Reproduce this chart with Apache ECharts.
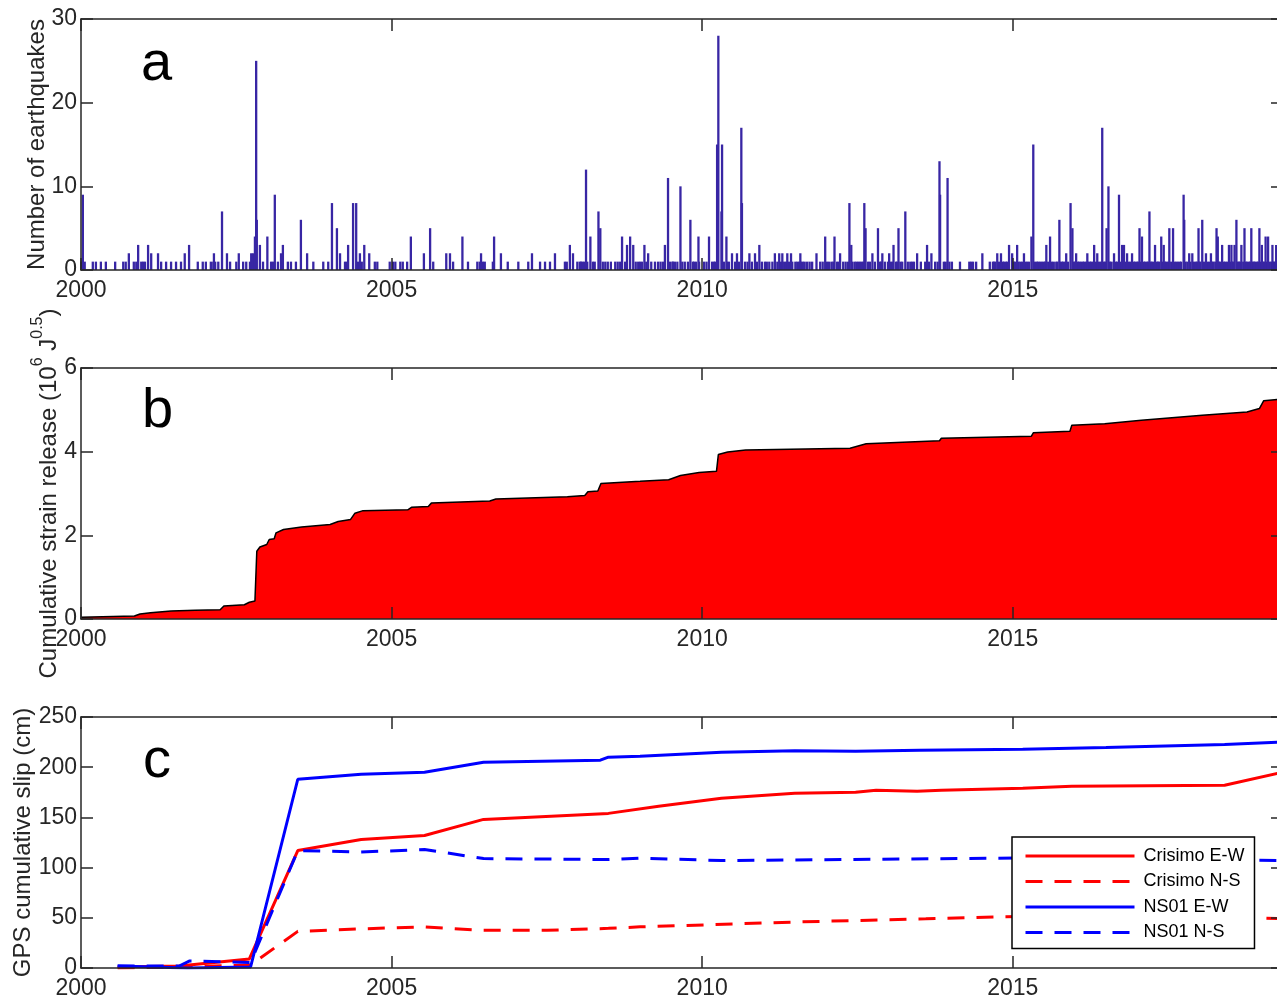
<!DOCTYPE html>
<html>
<head>
<meta charset="utf-8">
<script src="https://cdn.jsdelivr.net/npm/echarts@6/dist/echarts.min.js"></script>
<style>
html,body{margin:0;padding:0;background:#fff;}
#chart{width:1277px;height:998px;}
</style>
</head>
<body>
<div id="chart"></div>
<script>
// ---------- DATA ----------
const xTicks = [2000, 2005, 2010, 2015];

// Panel a: days with more than one earthquake [decimal year, count]
const quakeMulti = [
[2000.03,9],[2000.77,2],[2000.92,3],[2001.08,3],[2001.13,2],[2001.24,2],[2001.67,2],[2001.74,3],[2002.14,2],[2002.27,7],
[2002.35,2],[2002.54,2],[2002.74,2],[2002.77,2],[2002.80,4],[2002.82,25],[2002.83,6],[2002.88,3],[2003.00,4],[2003.12,9],
[2003.22,2],[2003.25,3],[2003.54,6],[2003.64,2],[2004.04,8],[2004.12,5],[2004.17,2],[2004.30,3],[2004.38,8],[2004.43,8],
[2004.49,2],[2004.56,3],[2004.64,2],[2005.31,4],[2005.52,2],[2005.62,5],[2005.88,2],[2005.94,2],[2006.14,4],[2006.44,2],
[2006.65,4],[2006.76,2],[2007.26,2],[2007.63,2],[2007.87,3],[2007.92,2],[2008.13,12],[2008.20,4],[2008.33,7],[2008.36,5],
[2008.71,4],[2008.79,3],[2008.84,4],[2008.89,3],[2009.07,3],[2009.13,2],[2009.40,3],[2009.45,11],[2009.65,10],[2009.81,6],
[2009.94,4],[2010.11,4],[2010.24,15],[2010.26,28],[2010.31,7],[2010.32,15],[2010.39,4],[2010.48,2],[2010.56,2],[2010.63,17],
[2010.64,8],[2010.76,2],[2010.85,2],[2010.92,3],[2011.17,2],[2011.24,2],[2011.29,2],[2011.37,2],[2011.43,2],[2011.58,2],
[2011.84,2],[2011.98,4],[2012.13,4],[2012.22,2],[2012.37,8],[2012.40,3],[2012.61,8],[2012.63,5],[2012.74,2],[2012.83,5],
[2012.90,2],[2013.01,2],[2013.08,3],[2013.16,5],[2013.27,7],[2013.46,2],[2013.62,3],[2013.69,2],[2013.82,13],[2013.83,9],
[2013.95,11],[2014.51,2],[2014.75,2],[2014.81,2],[2014.94,3],[2014.99,2],[2015.07,3],[2015.18,2],[2015.30,4],[2015.33,15],
[2015.54,3],[2015.60,4],[2015.75,6],[2015.86,2],[2015.93,8],[2015.96,5],[2016.02,2],[2016.20,2],[2016.31,3],[2016.36,2],
[2016.44,17],[2016.51,5],[2016.54,10],[2016.63,2],[2016.71,9],[2016.76,3],[2016.79,3],[2016.84,2],[2016.92,2],[2017.04,5],
[2017.08,4],[2017.20,7],[2017.29,3],[2017.39,4],[2017.43,3],[2017.52,5],[2017.58,5],[2017.75,9],[2017.76,6],[2017.84,2],
[2017.89,2],[2017.99,5],[2018.05,6],[2018.11,2],[2018.19,2],[2018.28,5],[2018.30,4],[2018.37,3],[2018.48,3],[2018.52,3],
[2018.57,3],[2018.60,6],[2018.68,3],[2018.73,5],[2018.84,5],[2018.97,5],[2019.01,3],[2019.07,4],[2019.11,4],[2019.18,3],
[2019.24,3]
];
// Panel a: days with exactly one earthquake (decimal year)
const quakeOnes = [
2000.00,2000.06,2000.19,2000.24,2000.32,2000.40,2000.55,2000.68,2000.72,2000.85,2000.89,2000.97,2001.00,2001.03,2001.29,
2001.37,2001.45,2001.53,2001.61,2001.88,2001.96,2002.01,2002.09,2002.13,2002.16,2002.21,2002.40,2002.50,2002.61,2002.66,
2002.72,2002.93,2003.06,2003.09,2003.17,2003.33,2003.38,2003.46,2003.74,2003.90,2003.98,2004.25,2004.28,2004.46,2004.52,
2004.73,2004.77,2004.97,2005.02,2005.06,2005.14,2005.18,2005.25,2005.67,2005.99,2006.23,2006.38,2006.42,2006.47,2006.50,
2006.63,2006.87,2007.04,2007.20,2007.39,2007.47,2007.55,2007.79,2007.82,2007.99,2008.03,2008.05,2008.07,2008.10,2008.15,
2008.24,2008.27,2008.40,2008.44,2008.48,2008.53,2008.60,2008.64,2008.68,2008.76,2008.93,2008.97,2009.00,2009.03,2009.10,
2009.18,2009.24,2009.29,2009.33,2009.37,2009.48,2009.52,2009.53,2009.56,2009.60,2009.68,2009.72,2009.77,2009.85,2009.87,
2009.90,2009.95,2010.03,2010.07,2010.16,2010.19,2010.21,2010.35,2010.40,2010.43,2010.53,2010.59,2010.69,2010.73,2010.80,
2010.88,2010.96,2011.01,2011.04,2011.08,2011.13,2011.21,2011.27,2011.32,2011.35,2011.40,2011.45,2011.50,2011.53,2011.56,
2011.59,2011.62,2011.65,2011.69,2011.73,2011.77,2011.90,2011.94,2012.01,2012.04,2012.08,2012.11,2012.17,2012.20,2012.27,
2012.31,2012.35,2012.41,2012.45,2012.48,2012.51,2012.54,2012.57,2012.60,2012.67,2012.70,2012.78,2012.86,2012.88,2012.94,
2012.99,2013.04,2013.07,2013.12,2013.14,2013.19,2013.22,2013.31,2013.35,2013.38,2013.41,2013.52,2013.59,2013.65,2013.75,
2013.79,2013.89,2013.92,2013.98,2014.02,2014.15,2014.30,2014.33,2014.36,2014.41,2014.63,2014.68,2014.70,2014.72,2014.78,
2014.84,2014.86,2014.89,2014.91,2015.02,2015.04,2015.09,2015.12,2015.15,2015.20,2015.23,2015.26,2015.36,2015.39,2015.41,
2015.44,2015.47,2015.50,2015.52,2015.57,2015.63,2015.66,2015.70,2015.72,2015.76,2015.79,2015.81,2015.84,2015.89,2015.98,
2016.00,2016.05,2016.07,2016.10,2016.13,2016.15,2016.18,2016.21,2016.24,2016.26,2016.29,2016.34,2016.39,2016.42,2016.47,
2016.49,2016.56,2016.58,2016.62,2016.66,2016.68,2016.73,2016.82,2016.87,2016.90,2016.95,2016.97,2017.00,2017.02,2017.06,
2017.11,2017.13,2017.16,2017.18,2017.22,2017.24,2017.27,2017.32,2017.34,2017.36,2017.41,2017.45,2017.47,2017.50,2017.55,
2017.60,2017.63,2017.66,2017.69,2017.71,2017.78,2017.81,2017.86,2017.92,2017.95,2017.97,2018.00,2018.02,2018.08,2018.13,
2018.16,2018.21,2018.23,2018.26,2018.32,2018.34,2018.40,2018.42,2018.45,2018.50,2018.53,2018.55,2018.62,2018.64,2018.66,
2018.71,2018.75,2018.77,2018.80,2018.82,2018.86,2018.88,2018.90,2018.93,2018.95,2018.99,2019.03,2019.05,2019.09,2019.13,
2019.16,2019.19,2019.21,2019.23,2019.26,2019.29
];

// Panel b: cumulative strain release (10^6 J^0.5)
const strainYears = [2000.00,2000.86,2000.95,2001.12,2001.45,2001.84,2002.24,2002.30,2002.63,2002.71,2002.80,2002.83,2002.88,2002.99,2003.03,
2003.11,2003.14,2003.26,2003.55,2004.01,2004.14,2004.34,2004.41,2004.54,2005.26,2005.32,2005.59,2005.64,2006.58,2006.68,
2007.83,2008.11,2008.16,2008.32,2008.37,2009.00,2009.46,2009.49,2009.65,2009.95,2010.23,2010.26,2010.41,2010.70,2012.38,
2012.64,2013.82,2013.85,2015.30,2015.33,2015.92,2015.95,2016.48,2017.07,2018.05,2018.77,2018.97,2019.04,2019.29,2019.35];
const strainValues = [0.04,0.07,0.12,0.15,0.19,0.21,0.22,0.31,0.34,0.40,0.43,1.62,1.72,1.78,1.90,
1.92,2.06,2.14,2.20,2.26,2.33,2.38,2.53,2.59,2.61,2.67,2.69,2.77,2.82,2.87,
2.92,2.95,3.04,3.06,3.24,3.29,3.33,3.37,3.43,3.50,3.53,3.93,3.99,4.04,4.08,
4.19,4.26,4.32,4.37,4.45,4.49,4.63,4.67,4.75,4.87,4.95,5.03,5.22,5.25,5.26];

// Panel c: GPS cumulative slip (cm)
const crisimoEWYears = [2000.59,2001.58,2002.71,2003.49,2004.51,2005.53,2006.48,2008.49,2009.30,2010.31,2011.49,2012.47,2012.80,2013.46,2013.85,2015.16,2015.95,2018.41,2019.35];
const crisimoEW      = [1,2,9,117,128,132,148,154,161,169,174,175,177,176,177,179,181,182,195];
const crisimoNSYears = [2000.59,2001.58,2002.73,2003.49,2004.51,2005.53,2006.48,2007.50,2008.49,2009.00,2010.05,2011.60,2013.60,2014.80,2016.00,2017.50,2018.41,2019.35];
const crisimoNS      = [0,1,3,36.5,39,41,37.5,37.5,39.5,41,43,46,49,51,52,52,51,49];
const ns01EWYears = [2000.59,2001.71,2002.73,2003.49,2004.51,2005.53,2006.48,2008.36,2008.49,2009.00,2010.31,2011.49,2012.47,2013.50,2015.16,2016.50,2018.41,2019.35];
const ns01EW      = [2,0,1,188,193,195,205,207,210,211,215,216.5,216,217,218,219.5,222.5,225];
const ns01NSYears = [2000.59,2001.58,2001.75,2002.73,2003.49,2004.51,2005.53,2006.48,2008.49,2009.00,2010.31,2012.30,2015.16,2019.35];
const ns01NS      = [2,2,7,5.5,117,115.5,118,109,108,109.5,107,108,109.5,107];

const seriesNames = ['Crisimo E-W','Crisimo N-S','NS01 E-W','NS01 N-S'];

// ---------- CHART ----------
const FONT = '"Liberation Sans", Arial, Helvetica, sans-serif';
const AX = '#262626';
const X_MIN = 2000, X_MAX = 2019.35;

const grids = [
  {left: 81, top: 19, width: 1202, height: 251, outerBoundsMode: 'none', containLabel: false},
  {left: 81, top: 368, width: 1202, height: 251, outerBoundsMode: 'none', containLabel: false},
  {left: 81, top: 717, width: 1202, height: 251, outerBoundsMode: 'none', containLabel: false}
];

function xAxes(gi) {
  const common = {
    gridIndex: gi, type: 'value', min: X_MIN, max: X_MAX, interval: 5, z: 5,
    axisLine: {show: true, onZero: false, lineStyle: {color: AX, width: 1.5}},
    axisTick: {show: true, inside: true, length: 12, lineStyle: {color: AX, width: 1.5}},
    splitLine: {show: false}
  };
  return [
    Object.assign({}, common, {position: 'bottom',
      axisLabel: {show: true, fontSize: 23, color: AX, fontFamily: FONT, margin: 9,
        formatter: v => (xTicks.indexOf(v) >= 0 ? String(v) : '')}}),
    Object.assign({}, common, {position: 'top', axisLabel: {show: false}})
  ];
}
function yAxes(gi, min, max, interval, name, nameGap, nameStyle) {
  const common = {
    gridIndex: gi, type: 'value', min: min, max: max, interval: interval, z: 5,
    axisLine: {show: true, onZero: false, lineStyle: {color: AX, width: 1.5}},
    axisTick: {show: true, inside: true, length: 12, lineStyle: {color: AX, width: 1.5}},
    splitLine: {show: false}
  };
  return [
    Object.assign({}, common, {position: 'left',
      axisLabel: {show: true, fontSize: 23, color: AX, fontFamily: FONT, margin: 4},
      name: name, nameLocation: 'middle', nameRotate: 90, nameGap: nameGap, nameMoveOverlap: false,
      nameTextStyle: nameStyle || {fontSize: 24, color: AX, fontFamily: FONT}}),
    Object.assign({}, common, {position: 'right', axisLabel: {show: false}})
  ];
}

const strainNameStyle = {fontSize: 24, color: AX, fontFamily: FONT,
  rich: {
    m: {fontSize: 24, color: AX, fontFamily: FONT, verticalAlign: 'bottom', lineHeight: 31},
    sup: {fontSize: 16, color: AX, fontFamily: FONT, verticalAlign: 'top', lineHeight: 31}
  }};

const xs = [].concat(xAxes(0), xAxes(1), xAxes(2));
const ys = [].concat(
  yAxes(0, 0, 30, 10, 'Number of earthquakes', 32),
  yAxes(1, 0, 6, 2, '{m|Cumulative strain release (10}{sup|6}{m| J}{sup|0.5}{m|)}', 20, strainNameStyle),
  yAxes(2, 0, 250, 50, 'GPS cumulative slip (cm)', 46)
);

const quakeData = quakeOnes.map(y => [y, 1]).concat(quakeMulti);
const pair = (a, b) => a.map((v, i) => [v, b[i]]);

const lineCommon = {type: 'line', xAxisIndex: 4, yAxisIndex: 4, symbol: 'none', z: 3, silent: true};

const option = {
  animation: false,
  backgroundColor: '#fff',
  grid: grids,
  xAxis: xs,
  yAxis: ys,
  legend: {
    orient: 'vertical', left: 1012, top: 837,
    itemWidth: 109, itemHeight: 14, itemGap: 7.5,
    padding: [10, 10, 7, 12],
    borderColor: '#000', borderWidth: 1.5, backgroundColor: '#fff',
    itemStyle: {opacity: 0, borderWidth: 0, color: 'rgba(0,0,0,0)'},
    lineStyle: {width: 3},
    textStyle: {fontSize: 18, color: '#000', fontFamily: FONT, lineHeight: 18, padding: [0, 0, 0, 4]},
    data: seriesNames
  },
  graphic: [
    {type: 'text', left: 141, top: 37, style: {text: 'a', fontSize: 56, fill: '#000', fontFamily: FONT}},
    {type: 'text', left: 142, top: 384, style: {text: 'b', fontSize: 56, fill: '#000', fontFamily: FONT}},
    {type: 'text', left: 143, top: 734, style: {text: 'c', fontSize: 56, fill: '#000', fontFamily: FONT}}
  ],
  series: [
    {type: 'bar', xAxisIndex: 0, yAxisIndex: 0, data: quakeData, barWidth: 2.3,
     itemStyle: {color: '#3826a4'}, z: 2, silent: true},
    {type: 'line', xAxisIndex: 2, yAxisIndex: 2, data: pair(strainYears, strainValues), symbol: 'none',
     lineStyle: {color: '#000', width: 1.5}, areaStyle: {color: '#ff0000', opacity: 1}, z: 2, silent: true},
    Object.assign({}, lineCommon, {name: 'Crisimo E-W', data: pair(crisimoEWYears, crisimoEW),
      itemStyle: {color: '#ff0000'}, lineStyle: {color: '#ff0000', width: 3}}),
    Object.assign({}, lineCommon, {name: 'Crisimo N-S', data: pair(crisimoNSYears, crisimoNS),
      itemStyle: {color: '#ff0000'}, lineStyle: {color: '#ff0000', width: 3, type: [17, 12]}}),
    Object.assign({}, lineCommon, {name: 'NS01 E-W', data: pair(ns01EWYears, ns01EW),
      itemStyle: {color: '#0000ff'}, lineStyle: {color: '#0000ff', width: 3}}),
    Object.assign({}, lineCommon, {name: 'NS01 N-S', data: pair(ns01NSYears, ns01NS),
      itemStyle: {color: '#0000ff'}, lineStyle: {color: '#0000ff', width: 3, type: [17, 12]}})
  ]
};

const chart = echarts.init(document.getElementById('chart'), null, {renderer: 'canvas'});
chart.setOption(option);
</script>
</body>
</html>
